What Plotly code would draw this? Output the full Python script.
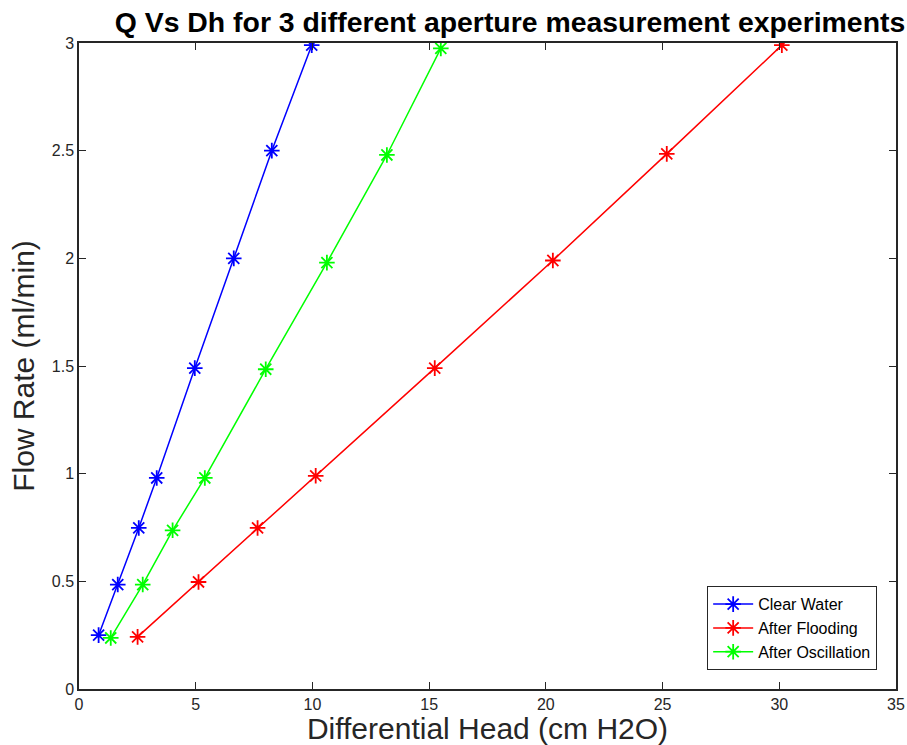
import plotly.graph_objects as go

clear_x = [0.84, 1.66, 2.56, 3.33, 4.96, 6.63, 8.26, 9.97]
clear_y = [0.25, 0.485, 0.748, 0.98, 1.49, 2.0, 2.5, 2.99]
flood_x = [2.51, 5.12, 7.65, 10.14, 15.24, 20.3, 25.18, 30.11]
flood_y = [0.242, 0.497, 0.748, 0.99, 1.49, 1.99, 2.485, 2.99]
osc_x = [1.36, 2.73, 4.01, 5.39, 8.0, 10.62, 13.19, 15.5]
osc_y = [0.237, 0.485, 0.737, 0.98, 1.485, 1.98, 2.48, 2.975]

series = [
    ("Clear Water", clear_x, clear_y, "#0000ff"),
    ("After Flooding", flood_x, flood_y, "#ff0000"),
    ("After Oscillation", osc_x, osc_y, "#00ff00"),
]

FONT = "Liberation Sans, Arial, Helvetica"

fig = go.Figure()
for name, xs, ys, c in series:
    fig.add_trace(go.Scatter(
        x=xs, y=ys, name=name, mode="lines+markers",
        line=dict(color=c, width=1.5),
        marker=dict(symbol="asterisk-open", size=13, color=c, line=dict(color=c, width=1.8)),
    ))

axis_common = dict(
    showgrid=False, zeroline=False, showline=True, linecolor="#262626", linewidth=1.5,
    mirror="ticks", ticks="inside", ticklen=7, tickcolor="#262626", tickwidth=1,
    automargin=False,
    tickfont=dict(family=FONT, size=16, color="#262626"),
)

fig.update_layout(
    width=907, height=745,
    margin=dict(l=79, r=11, t=43, b=56),
    plot_bgcolor="white", paper_bgcolor="white",
    title=dict(text="<b>Q Vs Dh for 3 different aperture measurement experiments</b>",
               x=0.5623, xanchor="center", y=0.970, yanchor="middle",
               font=dict(family=FONT, size=28.4, color="black")),
    xaxis=dict(range=[0, 35], dtick=5, **axis_common,
               title=dict(text="Differential Head (cm H2O)", standoff=4,
                          font=dict(family=FONT, size=30, color="#262626"))),
    yaxis=dict(range=[0, 3], dtick=0.5, **axis_common,
               title=dict(text="Flow Rate (ml/min)", standoff=8,
                          font=dict(family=FONT, size=30, color="#262626"))),
    legend=dict(x=0.9767, xanchor="right", y=0.0294, yanchor="bottom",
                bordercolor="#262626", borderwidth=1.2, bgcolor="white",
                font=dict(family=FONT, size=16, color="black"),
                tracegroupgap=0, itemwidth=40),
    showlegend=True,
)

fig.write_html("out.html")
